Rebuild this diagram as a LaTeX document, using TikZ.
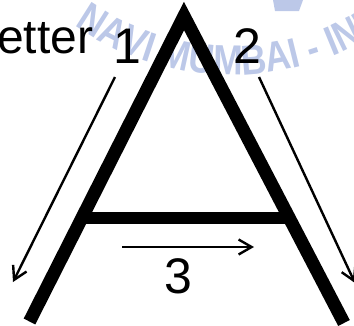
\documentclass[tikz,border=0pt]{standalone}
\usepackage{fontspec}
\setmainfont{Liberation Sans}
\newfontfamily\wmfamily{Liberation Sans}[FakeStretch=0.84]
\usetikzlibrary{arrows.meta,decorations.text}
\definecolor{wm}{RGB}{188,200,232}
\begin{document}
\begin{tikzpicture}[x=1pt,y=-1pt,
  leg/.style={line width=13pt, line join=miter},
  bar/.style={line width=12pt},
  arr/.style={line width=2.4pt, -{Straight Barb[length=13pt,width=15pt]}},
  lbl/.style={font=\fontsize{50}{50}\selectfont, inner sep=0pt, anchor=base}]
\useasboundingbox (0,0) rectangle (354,325);
\clip (0,0) rectangle (354,325);
% watermark
\fill[wm] (273,0) -- (303,0) -- (299,11) -- (275,11) -- cycle;
\path[decorate, decoration={text along path,
  text={|\wmfamily\bfseries\fontsize{42}{42}\selectfont\color{wm}|NAVI MUMBAI - INDIA},
  text align=left}]
  (232,-200) ++(125:275) arc[start angle=125, end angle=20, radius=275];
% letter A
\coordinate (apex) at (184,16);
\coordinate (lb) at (29.5,321.5);
\coordinate (rb) at (344,323);
\draw[leg] (lb) -- (apex) -- (rb);
\coordinate (cl) at (82,217.5);
\coordinate (cr) at (289,217.5);
\draw[bar] (cl) -- (cr);
% arrows
\coordinate (a1s) at (115,77);
\coordinate (a1e) at (13,282);
\draw[arr] (a1s) -- (a1e);
\coordinate (a2s) at (259,77);
\coordinate (a2e) at (355,283);
\draw[arr] (a2s) -- (a2e);
\coordinate (a3s) at (122,247);
\coordinate (a3e) at (254,247);
\draw[arr] (a3s) -- (a3e);
% labels
\node[lbl] (n1) at (127,63) {1};
\node[lbl] (n2) at (247,63) {2};
\node[lbl] (n3) at (178,293) {3};
\node[font=\fontsize{48}{48}\selectfont, inner sep=0pt, anchor=base west] (txt) at (-3,53) {etter};
\end{tikzpicture}
\end{document}
